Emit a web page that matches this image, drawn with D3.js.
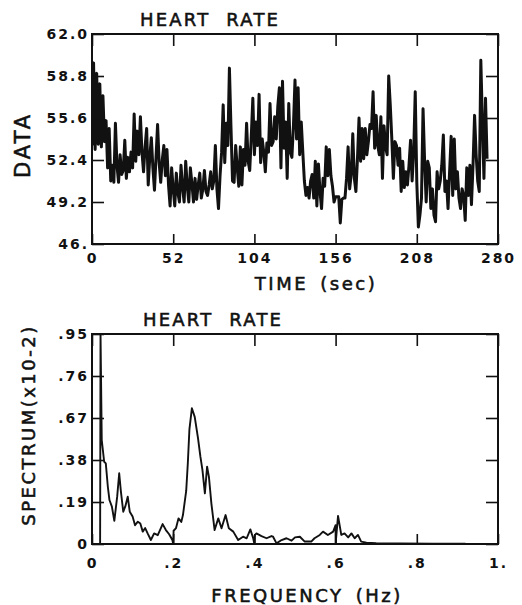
<!DOCTYPE html>
<html>
<head>
<meta charset="utf-8">
<script src="https://cdn.jsdelivr.net/npm/d3@7"></script>
<style>
  body { margin: 0; background: #fff; }
  svg text { font-family: "DejaVu Sans", sans-serif; fill: #111; }
  .tick text { font-weight: bold; }
  .name { stroke: #111; stroke-width: 0.55px; }
</style>
</head>
<body>
<div id="chart"></div>
<script>
// Heart rate record, one sample per second
var sampleSec = 1;
var heartRate = [
  53.5, 59.8, 53.2, 59.0, 53.6, 58.2, 53.4, 57.3, 53.8, 55.4,
  51.8, 54.8, 50.8, 52.0, 50.7, 55.2, 52.0, 50.7, 52.8, 51.3,
  51.6, 53.9, 51.0, 52.6, 51.5, 53.0, 51.8, 55.9, 52.3, 54.6,
  52.8, 55.7, 53.0, 51.5, 53.4, 54.8, 50.5, 52.6, 54.1, 51.8,
  50.1, 52.6, 55.1, 52.2, 50.7, 52.4, 53.5, 51.2, 53.2, 50.5,
  48.9, 51.8, 50.2, 48.9, 51.4, 49.9, 49.2, 52.0, 50.3, 49.2,
  52.3, 50.4, 49.2, 51.8, 50.6, 49.2, 51.0, 49.4, 50.5, 51.4,
  49.5, 50.2, 51.6, 50.0, 49.7, 50.5, 51.5, 50.2, 50.8, 53.5,
  50.2, 48.7, 51.2, 53.0, 56.6, 52.2, 55.2, 53.5, 59.4, 54.9,
  50.8, 50.7, 53.5, 51.8, 50.4, 53.4, 50.5, 53.2, 52.0, 55.2,
  52.3, 51.6, 54.2, 57.1, 52.8, 55.3, 53.5, 57.4, 52.2, 54.0,
  53.0, 51.5, 53.7, 53.0, 56.7, 53.5, 53.8, 55.7, 54.0, 56.5,
  57.9, 51.8, 58.4, 53.3, 55.3, 51.0, 56.7, 53.0, 52.6, 55.0,
  58.5, 54.0, 57.9, 52.8, 55.3, 53.0, 50.8, 49.7, 50.3, 49.5,
  50.8, 51.3, 49.5, 52.3, 48.9, 52.1, 50.0, 48.7, 51.0, 50.4,
  53.4, 51.2, 53.2, 51.2, 50.4, 49.2, 49.6, 49.6, 49.6, 47.6,
  49.4, 49.5, 49.5, 51.0, 53.4, 50.2, 51.3, 54.4, 51.0, 50.0,
  52.5, 55.6, 52.3, 54.8, 52.5, 54.8, 52.8, 53.8, 55.1, 54.8,
  57.6, 53.3, 55.8, 53.5, 52.8, 55.7, 51.0, 55.0, 53.4, 52.8,
  58.8, 56.6, 54.0, 51.0, 53.8, 53.5, 52.0, 53.3, 50.0, 52.3,
  50.3, 51.5, 50.5, 52.0, 53.9, 50.8, 53.0, 57.6, 50.7, 47.3,
  48.2, 49.5, 56.3, 52.3, 49.2, 52.3, 51.8, 48.7, 50.2, 48.2,
  47.7, 51.5, 50.2, 50.8, 52.0, 54.3, 50.0, 50.8, 48.7, 51.5,
  54.2, 49.7, 54.0, 50.2, 51.5, 49.5, 48.7, 50.2, 49.7, 47.8,
  51.8, 49.7, 52.0, 49.0, 52.0, 55.8, 52.8, 50.8, 50.0, 60.0,
  55.3, 51.0, 57.1, 52.5
];
var timeTicks = [0, 52, 104, 156, 208, 260];
var timeTickLabels = ['0', '52', '104', '156', '208', '280'];
var rateTicks = [46, 49.2, 52.4, 55.6, 58.8, 62];
var rateTickLabels = ['46.', '49.2', '52.4', '55.6', '58.8', '62.0'];

// Spectrum of the record
var freqHz = [
  0.020, 0.021, 0.024, 0.030, 0.034, 0.039, 0.043, 0.049, 0.055, 0.062,
  0.067, 0.071, 0.077, 0.082, 0.088, 0.093, 0.100, 0.106, 0.113, 0.119,
  0.125, 0.131, 0.137, 0.145, 0.153, 0.162, 0.174, 0.182, 0.190, 0.198,
  0.200, 0.201, 0.207, 0.213, 0.220, 0.224, 0.232, 0.236, 0.240, 0.246,
  0.253, 0.261, 0.267, 0.272, 0.278, 0.2835, 0.288, 0.294, 0.302, 0.311,
  0.319, 0.329, 0.337, 0.348, 0.360, 0.372, 0.381, 0.390, 0.397, 0.400,
  0.401, 0.405, 0.4175, 0.430, 0.442, 0.446, 0.4545, 0.467, 0.479, 0.4915,
  0.500, 0.512, 0.524, 0.540, 0.548, 0.561, 0.569, 0.581, 0.594, 0.600,
  0.600, 0.606, 0.614, 0.622, 0.631, 0.639, 0.647, 0.655, 0.663, 0.676,
  0.700, 0.758, 0.840, 0.920
];
var spectrum = [
  0, 0.95, 0.47, 0.372, 0.365, 0.259, 0.199, 0.169, 0.105, 0.214,
  0.32, 0.24, 0.146, 0.17, 0.214, 0.146, 0.124, 0.085, 0.101, 0.093,
  0.056, 0.072, 0.048, 0.018, 0.048, 0.040, 0.090, 0.063, 0.044, 0.018,
  0, 0.06, 0.072, 0.116, 0.100, 0.131, 0.24, 0.365, 0.52, 0.614,
  0.575, 0.48, 0.395, 0.335, 0.229, 0.35, 0.304, 0.184, 0.063, 0.116,
  0.071, 0.131, 0.071, 0.056, 0.018, 0.033, 0.026, 0.066, 0.026, 0,
  0.04, 0.048, 0.036, 0.026, 0.036, 0.033, 0.003, 0.018, 0.026, 0.015,
  0.03, 0.033, 0.011, 0.011, 0.026, 0.041, 0.056, 0.041, 0.056, 0.085,
  0, 0.127, 0.041, 0.048, 0.030, 0.048, 0.026, 0.041, 0.011, 0.006,
  0.004, 0.003, 0.0015, 0.001
];
var freqTicks = [0, 0.2, 0.4, 0.6, 0.8, 1];
var freqTickLabels = ['0', '.2', '.4', '.6', '.8', '1.'];
var specTicks = [0, 0.19, 0.38, 0.57, 0.76, 0.95];
var specTickLabels = ['0', '.19', '.38', '.67', '.76', '.95'];

var width = 522;
var height = 605;
var left = 92;
var right = 498;

var svg = d3.select('#chart')
  .append('svg')
  .attr('width', width)
  .attr('height', height);

// Draw one framed panel with inward ticks on all four sides
function drawPanel(p) {
  var x = d3.scaleLinear().domain(p.xDomain).range([left, right]);
  var y = d3.scaleLinear().domain(p.yDomain).range([p.bottom, p.top]);
  var g = svg.append('g');

  g.append('clipPath')
   .attr('id', p.id)
   .append('rect')
   .attr('x', left)
   .attr('y', p.top)
   .attr('width', right - left)
   .attr('height', p.bottom - p.top);

  var line = d3.line()
    .x(function (d) { return x(d[0]); })
    .y(function (d) { return y(d[1]); });

  g.append('path')
   .datum(p.points)
   .attr('clip-path', 'url(#' + p.id + ')')
   .attr('d', line)
   .attr('fill', 'none')
   .attr('stroke', '#111')
   .attr('stroke-width', p.lineWidth)
   .attr('stroke-linejoin', 'round');

  var axes = [
    { axis: d3.axisLeft(y).tickValues(p.yTicks).tickSizeInner(-12).tickPadding(3)
        .tickFormat(function (d, i) { return p.yLabels[i]; }), at: [left, 0] },
    { axis: d3.axisRight(y).tickValues(p.yTicks).tickSizeInner(-12).tickFormat(''), at: [right, 0] },
    { axis: d3.axisBottom(x).tickValues(p.xTicks).tickSizeInner(-10).tickPadding(p.xPad)
        .tickFormat(function (d, i) { return p.xLabels[i]; }), at: [0, p.bottom] },
    { axis: d3.axisTop(x).tickValues(p.xTicks).tickSizeInner(-12).tickFormat(''), at: [0, p.top] }
  ];
  axes.forEach(function (a) {
    var ag = g.append('g')
      .attr('transform', 'translate(' + a.at[0] + ',' + a.at[1] + ')')
      .call(a.axis.tickSizeOuter(0));
    ag.select('.domain').remove();
    ag.selectAll('line').attr('stroke', '#111').attr('stroke-width', 1.6);
    ag.selectAll('text')
      .attr('fill', '#111')
      .style('font-size', '14px')
      .style('letter-spacing', '2px');
  });

  // Frame
  g.append('rect')
   .attr('x', left)
   .attr('y', p.top)
   .attr('width', right - left)
   .attr('height', p.bottom - p.top)
   .attr('fill', 'none')
   .attr('stroke', '#111')
   .attr('stroke-width', 2);

  // Title and axis names
  g.append('text')
   .attr('class', 'name')
   .attr('x', p.titleX)
   .attr('y', p.top - 8)
   .style('font-size', '18px')
   .style('letter-spacing', '2.2px')
   .style('word-spacing', '8px')
   .text('HEART RATE');

  g.append('text')
   .attr('class', 'name')
   .attr('x', p.xNameX)
   .attr('y', p.xNameY)
   .attr('text-anchor', 'middle')
   .style('font-size', '18px')
   .style('letter-spacing', p.xNameSpacing)
   .style('word-spacing', '4px')
   .text(p.xName);

  g.append('text')
   .attr('class', 'name')
   .attr('transform', 'translate(' + p.yNameX + ',' + p.yNameY + ') rotate(-90)')
   .attr('text-anchor', 'middle')
   .style('font-size', p.yNameSize)
   .style('letter-spacing', p.yNameSpacing)
   .text(p.yName);
}

drawPanel({
  id: 'clip-rate',
  top: 34,
  bottom: 244,
  xDomain: [0, 260],
  yDomain: [46, 62],
  points: heartRate.map(function (v, i) { return [i * sampleSec, v]; }),
  lineWidth: 3,
  xTicks: timeTicks,
  xLabels: timeTickLabels,
  yTicks: rateTicks,
  yLabels: rateTickLabels,
  xPad: 9,
  titleX: 140,
  xName: 'TIME (sec)',
  xNameX: 316,
  xNameY: 290,
  xNameSpacing: '2.5px',
  yName: 'DATA',
  yNameX: 30,
  yNameY: 145,
  yNameSize: '21px',
  yNameSpacing: '3px'
});

drawPanel({
  id: 'clip-spec',
  top: 334,
  bottom: 544,
  xDomain: [0, 1],
  yDomain: [0, 0.95],
  points: freqHz.map(function (f, i) { return [f, spectrum[i]]; }),
  lineWidth: 1.9,
  xTicks: freqTicks,
  xLabels: freqTickLabels,
  yTicks: specTicks,
  yLabels: specTickLabels,
  xPad: 14,
  titleX: 143,
  xName: 'FREQUENCY (Hz)',
  xNameX: 307,
  xNameY: 602,
  xNameSpacing: '2.5px',
  yName: 'SPECTRUM(x10-2)',
  yNameX: 35,
  yNameY: 425,
  yNameSize: '18px',
  yNameSpacing: '2.5px'
});
</script>
</body>
</html>
